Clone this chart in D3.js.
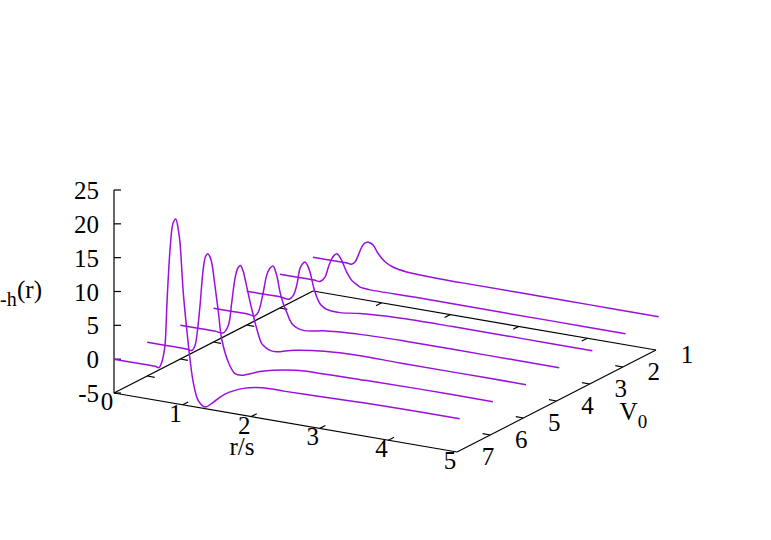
<!DOCTYPE html>
<html>
<head>
<meta charset="utf-8">
<script src="https://cdn.jsdelivr.net/npm/d3@7"></script>
<style>
  html, body { margin: 0; padding: 0; background: #fff; }
  text { font-family: "Liberation Serif", serif; fill: #000; }
</style>
</head>
<body>
<svg id="chart" width="771" height="540"></svg>
<script>
// One r/s list and one h-h value list per V0.
const r7 = [0, 0.3, 0.5, 0.6, 0.656, 0.695, 0.72, 0.743, 0.777, 0.82, 0.86, 0.9, 0.94, 0.962, 1.01, 1.06, 1.108, 1.156, 1.229, 1.327, 1.447, 1.618, 1.91, 2.157, 2.5, 3, 3.5, 4, 5.04];
const z7 = [0, 0, 0, 0, -0.1, 0.7, 1.8, 3.3, 10.7, 18, 21.6, 22.3, 20.6, 18.9, 11.6, 6.3, 1.95, -1.43, -4, -4.77, -3.85, -2.34, -0.95, -0.45, -0.4, -0.3, -0.15, -0.05, 0];
const r6 = [0, 0.3, 0.5, 0.6, 0.65, 0.697, 0.73, 0.77, 0.818, 0.85, 0.882, 0.92, 0.949, 0.988, 1.039, 1.086, 1.182, 1.28, 1.378, 1.67, 2.154, 2.6, 3.2, 4, 5.04];
const z6 = [0, 0, 0, -0.05, -0.1, 0.7, 2.7, 6.7, 12.3, 14.1, 14.6, 14.1, 12.95, 10.07, 6.2, 2.4, -0.87, -2.42, -2.5, -1.4, -0.41, -0.2, -0.1, 0, 0];
const r5 = [0, 0.3, 0.5, 0.627, 0.7, 0.75, 0.797, 0.835, 0.875, 0.915, 0.943, 0.99, 1.04, 1.114, 1.187, 1.245, 1.308, 1.4, 1.478, 1.67, 2.1, 2.6, 3.2, 4, 5.04];
const z5 = [0, 0, 0, -0.05, 1.2, 4.7, 8.3, 9.8, 10.35, 9.6, 8.5, 6.4, 4.25, 1.42, -0.66, -1.15, -1.45, -1.5, -1.3, -0.8, -0.2, 0.05, 0, 0, 0];
const r4 = [0, 0.3, 0.5, 0.6, 0.653, 0.726, 0.775, 0.82, 0.867, 0.92, 0.97, 1.018, 1.067, 1.115, 1.163, 1.236, 1.309, 1.45, 1.6, 2.135, 2.8, 4, 5.04];
const z4 = [0, 0, 0, -0.1, 0.56, 3.65, 6.2, 7.3, 7.73, 6.5, 4.06, 2.43, 1.29, 0.15, -0.5, -0.87, -1, -0.85, -0.55, -0.15, 0, 0, 0];
const r3 = [0, 0.3, 0.5, 0.62, 0.68, 0.729, 0.777, 0.81, 0.85, 0.89, 0.923, 0.996, 1.069, 1.117, 1.166, 1.25, 1.36, 1.65, 2.2, 3, 4, 5.04];
const z3 = [0, 0, 0, -0.1, 0.56, 2.13, 4.7, 5.4, 5.78, 5.3, 4.43, 1.6, 0, -0.4, -0.65, -0.78, -0.8, -0.44, -0.1, 0, 0, 0];
const r2 = [0, 0.3, 0.5, 0.586, 0.659, 0.707, 0.757, 0.795, 0.829, 0.865, 0.902, 0.975, 1.048, 1.12, 1.169, 1.24, 1.315, 2.04, 3, 4, 5.04];
const z2 = [0, 0, 0, -0.05, 0.72, 2.27, 3.6, 4.2, 4.48, 4.2, 3.6, 2, 0.91, 0.44, 0.13, 0.03, -0.03, 0.02, 0, 0, 0];
const r1 = [0, 0.3, 0.48, 0.564, 0.612, 0.66, 0.71, 0.75, 0.79, 0.835, 0.879, 0.952, 1.05, 1.17, 1.366, 1.56, 2.2, 3, 4, 5.04];
const z1 = [0, 0, 0, -0.05, 0.34, 1.42, 2.73, 3.35, 3.6, 3.55, 3.28, 2.17, 1.15, 0.55, 0.2, 0.1, 0, 0, 0, 0];

const vValues = [1, 2, 3, 4, 5, 6, 7];
const rLists = [r1, r2, r3, r4, r5, r6, r7];
const zLists = [z1, z2, z3, z4, z5, z6, z7];
const rTicks = [0, 1, 2, 3, 4, 5];
const zTicks = [-5, 0, 5, 10, 15, 20, 25];

const svg = d3.select('#chart');

// Screen offsets for each of the three data axes of the oblique view.
const rX = d3.scaleLinear().domain([0, 5]).range([0, 343]);
const rY = d3.scaleLinear().domain([0, 5]).range([0, 59]);
const vX = d3.scaleLinear().domain([7, 1]).range([0, 199]);
const vY = d3.scaleLinear().domain([7, 1]).range([0, -102]);
const zY = d3.scaleLinear().domain([-5, 25]).range([0, -203]);

const originX = 114;
const originY = 393;

const project = (r, v, z) => [
    originX + rX(r) + vX(v),
    originY + rY(r) + vY(v) + zY(z)
];

const frame = svg.append('g').attr('stroke', '#000').attr('stroke-width', 1.2).attr('fill', 'none');

const segment = (a, b) => frame.append('line')
    .attr('x1', a[0]).attr('y1', a[1])
    .attr('x2', b[0]).attr('y2', b[1]);

// The base rectangle and the vertical axis.
segment(project(0, 7, -5), project(5, 7, -5));
segment(project(5, 7, -5), project(5, 1, -5));
segment(project(5, 1, -5), project(0, 1, -5));
segment(project(0, 1, -5), project(0, 7, -5));
segment(project(0, 7, -5), project(0, 7, 25));

// Ticks on all four edges of the base, they point inwards.
rTicks.slice(1, -1).forEach(r => {
    segment(project(r, 7, -5), project(r, 6.83, -5));
    segment(project(r, 1, -5), project(r, 1.17, -5));
});
vValues.slice(1, -1).forEach(v => {
    segment(project(0, v, -5), project(0.11, v, -5));
    segment(project(5, v, -5), project(4.89, v, -5));
});
zTicks.forEach(z => {
    const p = project(0, 7, z);
    segment(p, [p[0] + 7, p[1]]);
});

const line = d3.line().curve(d3.curveCatmullRom.alpha(0.5));

svg.append('g')
    .selectAll('path')
    .data(vValues)
    .join('path')
    .attr('fill', 'none')
    .attr('stroke', '#9a10dc')
    .attr('stroke-width', 1.5)
    .attr('d', (v, i) => line(rLists[i].map((r, j) => project(r, v, zLists[i][j]))));

const label = (x, y, str, anchor, size) => svg.append('text')
    .attr('x', x).attr('y', y)
    .attr('text-anchor', anchor || 'middle')
    .attr('font-size', size || 25)
    .text(str);

zTicks.forEach(z => {
    label(originX - 15, project(0, 7, z)[1] + 9, z, 'end');
});
rTicks.forEach(r => {
    const p = project(r, 7, -5);
    label(p[0] - 7, p[1] + 17, r);
});
vValues.forEach(v => {
    const p = project(5, v, -5);
    label(p[0] + 31, p[1] + 13, v);
});

label(242, 455, 'r/s');
label(628.5, 420, 'V', 'middle', 25);
label(642.5, 428, '0', 'middle', 19);
label(0, 306, '-h', 'start', 20);
label(17, 298, '(r)', 'start', 25);
</script>
</body>
</html>
